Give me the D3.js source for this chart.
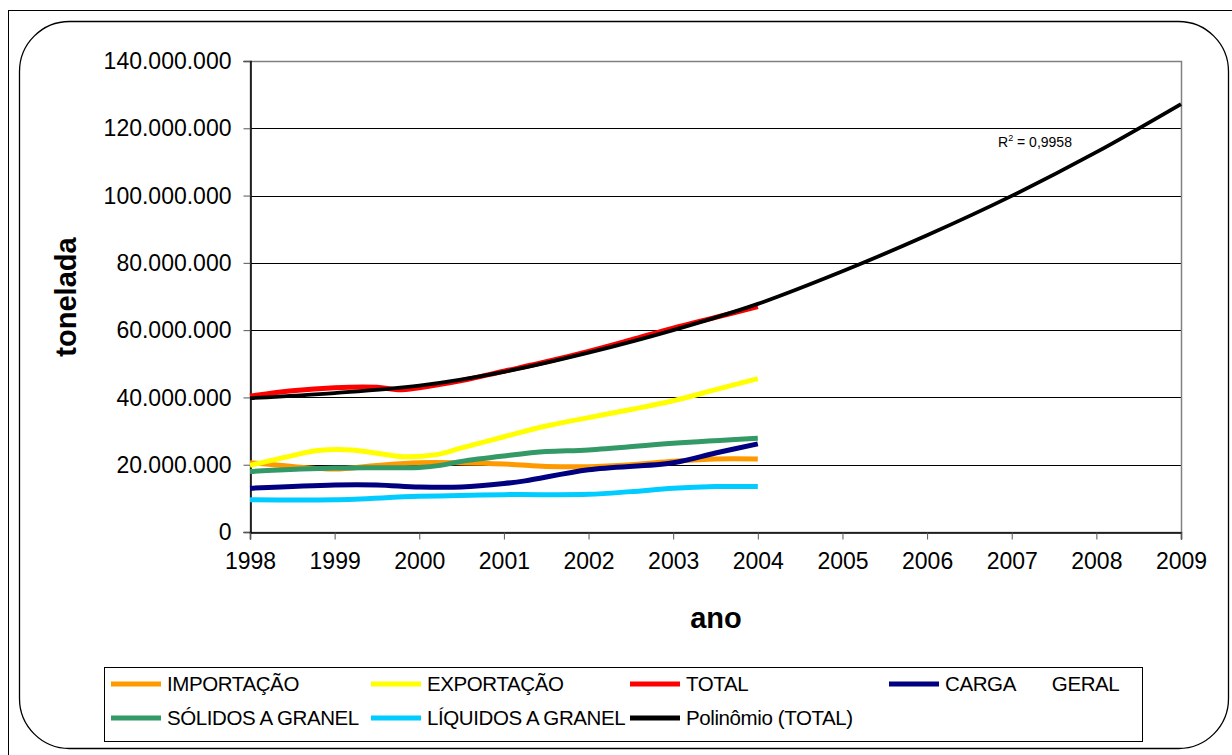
<!DOCTYPE html>
<html>
<head>
<meta charset="utf-8">
<script src="https://cdn.jsdelivr.net/npm/d3@7/dist/d3.min.js"></script>
<style>
  html, body { margin: 0; padding: 0; background: #fff; }
  svg { display: block; font-family: "Liberation Sans", Arial, sans-serif; }
</style>
</head>
<body>
<svg id="chart" width="1232" height="755"></svg>
<script>
// Movimentação de cargas (toneladas) – valores em milhões de toneladas
const importacao = [[1998, 20.6], [1998.5, 19.5], [1999, 18.7], [1999.5, 19.8], [2000, 20.6], [2001, 20.2],
  [2001.5, 19.5], [2002, 19.4], [2002.5, 20.0], [2003, 21.0], [2003.5, 21.7], [2004, 21.7]];
const exportacao = [[1998, 19.8], [1998.5, 22.7], [1998.8, 24.2], [1999.2, 24.4], [1999.5, 23.4], [1999.8, 22.4],
  [2000.2, 23.0], [2000.5, 25.0], [2001, 28.3], [2001.5, 31.5], [2002, 34.0], [2002.5, 36.4], [2003, 39.0],
  [2003.5, 42.3], [2004, 45.6]];
const total = [[1998, 40.4], [1998.5, 42.0], [1999, 42.9], [1999.5, 43.0], [1999.75, 42.3], [2000, 42.9],
  [2000.5, 45.0], [2001, 47.8], [2001.5, 50.6], [2002, 53.7], [2002.5, 57.1], [2003, 60.6], [2003.5, 63.8],
  [2004, 67.0]];
const cargaGeral = [[1998, 13.0], [1999, 14.0], [1999.5, 14.0], [2000, 13.4], [2000.5, 13.4], [2001, 14.4],
  [2001.25, 15.2], [2002, 18.5], [2003, 20.6], [2003.5, 23.5], [2004, 26.2]];
const solidos = [[1998, 18.0], [1999, 19.0], [2000, 19.2], [2000.25, 19.8], [2000.5, 21.0], [2001, 22.6],
  [2001.5, 23.9], [2002, 24.4], [2003, 26.4], [2004, 27.9]];
const liquidos = [[1998, 9.6], [1999, 9.6], [2000, 10.6], [2001, 11.1], [2002, 11.2], [2002.5, 12.0],
  [2003, 13.0], [2003.5, 13.5], [2004, 13.5]];
// Linha de tendência polinomial do TOTAL, projetada até 2009
const polinomio = [[1998, 39.8], [1999, 41.3], [2000, 43.5], [2001, 47.6], [2002, 53.3], [2003, 60.0],
  [2004, 67.8], [2005, 77.5], [2006, 88.2], [2007, 99.9], [2008, 112.9], [2009, 127.2]];

const anos = [1998, 1999, 2000, 2001, 2002, 2003, 2004, 2005, 2006, 2007, 2008, 2009];
const yTicks = [0, 20, 40, 60, 80, 100, 120, 140];
const r2Label = "0,9958";

const series = [
  { nome: "IMPORTAÇÃO", dados: importacao, cor: "#FF9900", w: 5 },
  { nome: "EXPORTAÇÃO", dados: exportacao, cor: "#FFFF00", w: 5 },
  { nome: "TOTAL", dados: total, cor: "#FF0000", w: 5 },
  { nome: "CARGA       GERAL", dados: cargaGeral, cor: "#000080", w: 5 },
  { nome: "SÓLIDOS A GRANEL", dados: solidos, cor: "#339966", w: 5 },
  { nome: "LÍQUIDOS A GRANEL", dados: liquidos, cor: "#00CCFF", w: 5 },
  { nome: "Polinômio (TOTAL)", dados: polinomio, cor: "#000000", w: 3.8 }
];

const svg = d3.select("#chart");

// Molduras externas
svg.append("rect").attr("x", 8.5).attr("y", 10.5).attr("width", 1240).attr("height", 760)
  .attr("fill", "none").attr("stroke", "#000").attr("stroke-width", 1);
svg.append("rect").attr("x", 19.5).attr("y", 21.5).attr("width", 1209).attr("height", 727)
  .attr("rx", 50).attr("ry", 50)
  .attr("fill", "#fff").attr("stroke", "#000").attr("stroke-width", 1.3);

const plot = { left: 250, right: 1181, top: 61, bottom: 532 };

const x = d3.scaleLinear().domain([1998, 2009]).range([plot.left, plot.right]);
const y = d3.scaleLinear().domain([0, 140]).range([plot.bottom, plot.top]);

const locale = d3.formatLocale({ decimal: ",", thousands: ".", grouping: [3], currency: ["R$", ""] });
const fmt = locale.format(",.0f");

// Linhas de grade
svg.append("g").selectAll("line").data(yTicks.filter(d => d > 0 && d < 140)).join("line")
  .attr("x1", plot.left).attr("x2", plot.right)
  .attr("y1", d => Math.round(y(d)) + 0.5).attr("y2", d => Math.round(y(d)) + 0.5)
  .attr("stroke", "#000").attr("stroke-width", 1);

// Borda da área de plotagem
svg.append("rect").attr("x", plot.left + 0.5).attr("y", plot.top + 0.5)
  .attr("width", plot.right - plot.left).attr("height", plot.bottom - plot.top)
  .attr("fill", "none").attr("stroke", "#808080").attr("stroke-width", 1.5);

// Eixo Y
const yAxis = svg.append("g").attr("transform", `translate(${plot.left + 0.5},0)`)
  .call(d3.axisLeft(y).tickValues(yTicks).tickSize(7).tickPadding(12)
    .tickFormat(d => fmt(d * 1e6)));
yAxis.select(".domain").attr("stroke", "#000").attr("stroke-width", 1.5);
yAxis.selectAll(".tick line").attr("stroke", "#555");
yAxis.selectAll(".tick text").attr("font-size", 23).attr("fill", "#000")
  .attr("font-family", "'Liberation Sans', Arial, sans-serif").attr("dy", "0.33em");

// Eixo X
const xAxis = svg.append("g").attr("transform", `translate(0,${plot.bottom + 0.5})`)
  .call(d3.axisBottom(x).tickValues(anos).tickSize(7).tickPadding(13).tickFormat(d3.format("d")));
xAxis.select(".domain").attr("stroke", "#000").attr("stroke-width", 1.5);
xAxis.selectAll(".tick line").attr("stroke", "#555");
xAxis.selectAll(".tick text").attr("font-size", 23).attr("fill", "#000")
  .attr("font-family", "'Liberation Sans', Arial, sans-serif");

// Títulos dos eixos
svg.append("text").attr("x", 716).attr("y", 628).attr("text-anchor", "middle")
  .attr("font-size", 29).attr("font-weight", "bold").text("ano");
svg.append("text").attr("transform", "translate(76,297) rotate(-90)").attr("text-anchor", "middle")
  .attr("font-size", 29).attr("font-weight", "bold").text("tonelada");

// Séries
const line = d3.line().x(d => x(d[0])).y(d => y(d[1])).curve(d3.curveCatmullRom.alpha(0.5));
svg.append("g").selectAll("path").data(series).join("path")
  .attr("d", s => line(s.dados))
  .attr("fill", "none").attr("stroke", s => s.cor).attr("stroke-width", s => s.w)
  .attr("stroke-linejoin", "round").attr("stroke-linecap", "butt");

// Rótulo R²
const r2 = svg.append("text").attr("x", 998).attr("y", 147).attr("font-size", 14).attr("fill", "#000");
r2.append("tspan").text("R");
r2.append("tspan").attr("font-size", 9).attr("dy", -6).text("2");
r2.append("tspan").attr("dy", 6).text(" = " + r2Label);

// Legenda
svg.append("rect").attr("x", 104.5).attr("y", 667.5).attr("width", 1038).attr("height", 74)
  .attr("fill", "#fff").attr("stroke", "#000").attr("stroke-width", 1);
const legCols = [111, 371, 630, 889];
const legRows = [684, 718];
const leg = svg.append("g").selectAll("g").data(series).join("g")
  .attr("transform", (s, i) => `translate(${legCols[i % 4]},${legRows[Math.floor(i / 4)]})`);
leg.append("line").attr("x1", 0).attr("x2", 50).attr("y1", 0).attr("y2", 0)
  .attr("stroke", s => s.cor).attr("stroke-width", 5);
leg.append("text").attr("x", 56).attr("y", 0).attr("dy", "0.36em")
  .attr("font-size", 20.5).attr("fill", "#000").style("white-space", "pre")
  .attr("letter-spacing", -0.4)
  .text(s => s.nome);
</script>
</body>
</html>
